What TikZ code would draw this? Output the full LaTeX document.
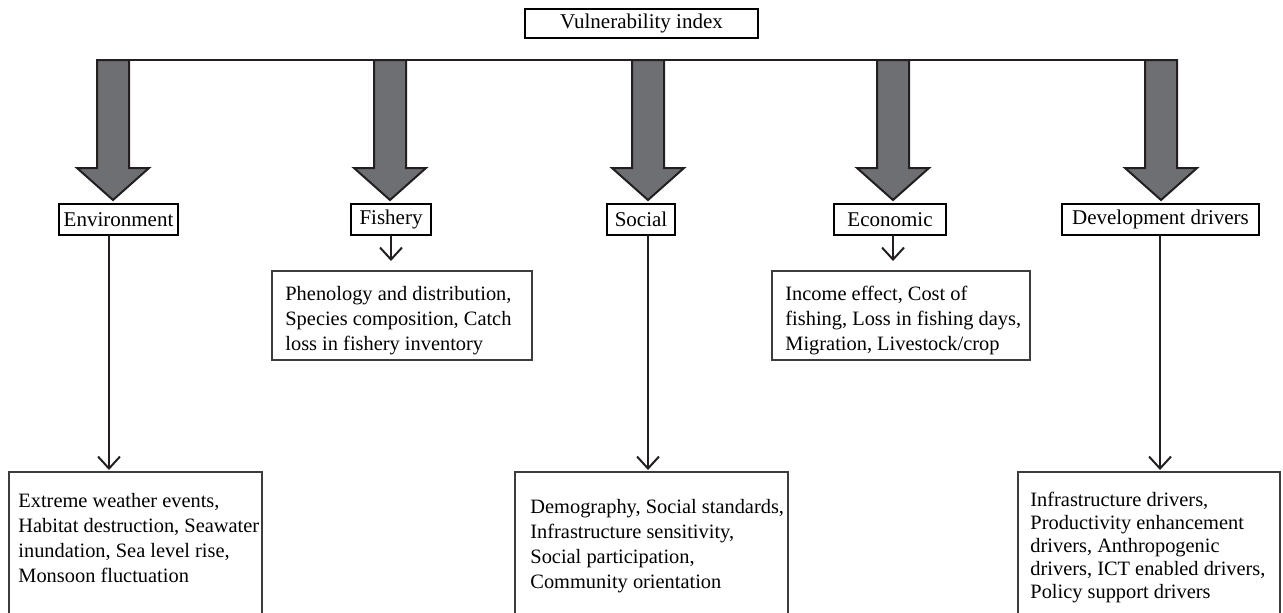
\documentclass[tikz,border=0pt]{standalone}
\usepackage{fontspec}
\setmainfont{Liberation Serif}
\usetikzlibrary{arrows.meta,calc}
\definecolor{arrowgray}{RGB}{110,111,114}
\definecolor{outlinec}{RGB}{35,31,32}
\definecolor{boxc}{RGB}{60,60,60}
\begin{document}
\begin{tikzpicture}[x=0.5pt,y=-0.5pt,
 cat/.style={draw=black,line width=1pt,minimum height=15.5pt,inner sep=0pt,outer sep=0pt,font=\fontsize{10.5}{12.5}\selectfont},
 detbox/.style={draw=boxc,line width=1pt,inner sep=0pt,outer sep=0pt},
 txt/.style={anchor=north west,align=left,inner sep=0pt,font=\fontsize{10.2}{12.5}\selectfont},
 txtd/.style={anchor=north west,align=left,inner sep=0pt,font=\fontsize{10.2}{11.5}\selectfont},
 big/.style={fill=arrowgray,draw=outlinec,line width=1pt,line join=miter},
 thinarr/.style={draw=outlinec,line width=1pt,-{Straight Barb[length=6pt,width=11pt,line width=1pt]}}
]
\useasboundingbox (0,0) rectangle (1283,612);

% top node
\node[cat,minimum width=116.5pt,minimum height=14.5pt] (top) at (641.5,23.5) {Vulnerability index};

% horizontal bar
\coordinate (barL) at (97,60);
\coordinate (barR) at (1177,60);
\draw[outlinec,line width=1pt] (barL) -- (barR);

% big arrows
\foreach \cx in {113,390,648,893,1161}{
  \draw[big] (\cx-16,60) -- (\cx-16,168) -- (\cx-36,168) -- (\cx,200) -- (\cx+36,168) -- (\cx+16,168) -- (\cx+16,60) -- cycle;
}

% category nodes
\node[cat,minimum width=59.5pt] (env) at (118.5,219.5) {Environment};
\node[cat,minimum width=40pt] (fish) at (391,219.5) {Fishery};
\node[cat,minimum width=34pt] (soc) at (641,219.5) {Social};
\node[cat,minimum width=56pt] (eco) at (890,219.5) {Economic};
\node[cat,minimum width=98.5pt] (dev) at (1160.5,219.5) {Development drivers};

% detail boxes (middle)
\node[detbox,minimum width=130pt,minimum height=44.5pt] (fishdet) at (402,315.5) {};
\node[detbox,minimum width=129pt,minimum height=44.5pt] (ecodet) at (901,315.5) {};
\node[txt] at (285,286) {Phenology and distribution,\\Species composition, Catch\\loss in fishery inventory};
\node[txt] at (785,286) {Income effect, Cost of\\fishing, Loss in fishing days,\\Migration, Livestock/crop};

% bottom boxes (open at the bottom)
\draw[detbox] (9,620) -- (9,472) -- (262,472) -- (262,620);
\draw[detbox] (515,620) -- (515,472) -- (788,472) -- (788,620);
\draw[detbox] (1018,620) -- (1018,472) -- (1280,472) -- (1280,620);
\coordinate (envdet) at (109,472);
\coordinate (socdet) at (648,472);
\coordinate (devdet) at (1160,472);
\node[txt] at (18,493) {Extreme weather events,\\Habitat destruction, Seawater\\inundation, Sea level rise,\\Monsoon fluctuation};
\node[txt] at (530,499) {Demography, Social standards,\\Infrastructure sensitivity,\\Social participation,\\Community orientation};
\node[txtd] at (1030,492) {Infrastructure drivers,\\Productivity enhancement\\drivers, Anthropogenic\\drivers, ICT enabled drivers,\\Policy support drivers};

% connectors
\draw[thinarr,shorten >=5pt] (fish.south) -- (fish.south |- fishdet.north);
\draw[thinarr,shorten >=5pt] (eco.south -| 893,0) -- (893,271);
\draw[thinarr,shorten >=1pt] (env.south -| envdet) -- (envdet);
\draw[thinarr,shorten >=1pt] (soc.south -| socdet) -- (socdet);
\draw[thinarr,shorten >=1pt] (dev.south -| devdet) -- (devdet);
\end{tikzpicture}
\end{document}
